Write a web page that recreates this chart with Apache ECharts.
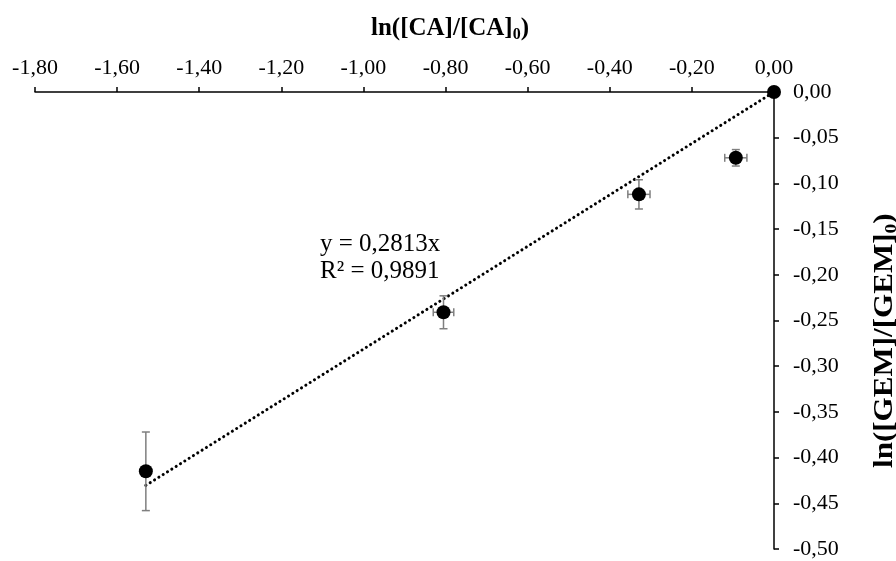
<!DOCTYPE html>
<html>
<head>
<meta charset="utf-8">
<script src="https://cdn.jsdelivr.net/npm/echarts@6/dist/echarts.min.js"></script>
<style>html,body{margin:0;padding:0;background:#fff}#c{width:896px;height:561px}</style>
</head>
<body>
<div id="c"></div>
<script>
// Data
var xValues = [0, -0.093, -0.329, -0.805, -1.530];
var yValues = [0, -0.072, -0.112, -0.241, -0.415];
var xErrors = [0, 0.027, 0.027, 0.025, 0];
var yErrors = [0, 0.009, 0.016, 0.018, 0.043];
var slope = 0.2813;
var trendX = [-1.530, 0];
var equationText = 'y = 0,2813x';
var r2Text = 'R² = 0,9891';
var xTitle = 'ln([CA]/[CA]';
var yTitle = 'ln([GEM]/[GEM]';

var FONT = '"Liberation Serif", "Times New Roman", serif';
function fmt(v){ return v.toFixed(2).replace('.', ','); }

var points = xValues.map(function(x,i){ return [x, yValues[i]]; });
var errData = xValues.map(function(x,i){ return [x, yValues[i], xErrors[i], yErrors[i]]; });
var trendData = trendX.map(function(x){ return [x, slope*x]; });

function titleRich(size){
  return {
    a: {fontFamily: FONT, fontWeight: 'bold', fontSize: size, fill: '#000'},
    s: {fontFamily: FONT, fontWeight: 'bold', fontSize: Math.round(size*0.64), fill: '#000', padding: [Math.round(size*0.48),0,0,0]}
  };
}

var chart = echarts.init(document.getElementById('c'));
chart.setOption({
  animation: false,
  backgroundColor: '#fff',
  grid: {left: 35, right: 122, top: 92, bottom: 12, containLabel: false},
  xAxis: {
    type: 'value', position: 'top', min: -1.8, max: 0, interval: 0.2,
    axisLine: {show: true, onZero: false, lineStyle: {color: '#000', width: 1.5}},
    axisTick: {show: true, length: 5, lineStyle: {color: '#000', width: 1.5}},
    splitLine: {show: false},
    axisLabel: {formatter: fmt, color: '#000', fontFamily: FONT, fontSize: 22, margin: 13}
  },
  yAxis: {
    type: 'value', position: 'right', min: -0.5, max: 0, interval: 0.05,
    axisLine: {show: true, onZero: false, lineStyle: {color: '#000', width: 1.5}},
    axisTick: {show: true, length: 5, lineStyle: {color: '#000', width: 1.5}},
    splitLine: {show: false},
    axisLabel: {formatter: fmt, color: '#000', fontFamily: FONT, fontSize: 22, margin: 19}
  },
  graphic: [
    {type: 'text', left: 371, top: 16, style: {
      text: '{a|' + xTitle + '}{s|0}{a|)}', rich: titleRich(25)
    }},
    {type: 'text', x: 870, y: 468, rotation: Math.PI/2, scaleX: 1.15, style: {
      text: '{a|' + yTitle + '}{s|0}{a|)}', rich: titleRich(27)
    }},
    {type: 'text', left: 320, top: 232, style: {text: equationText, fontFamily: FONT, fontSize: 25, fill: '#000'}},
    {type: 'text', left: 320, top: 259, style: {text: r2Text, fontFamily: FONT, fontSize: 25, fill: '#000'}}
  ],
  series: [
    {
      type: 'line', data: trendData, symbol: 'none', z: 2,
      lineStyle: {color: '#000', width: 3, type: [0.1, 5], cap: 'round'}
    },
    {
      type: 'custom', z: 3,
      renderItem: function(params, api){
        var x = api.value(0), y = api.value(1), ex = api.value(2), ey = api.value(3);
        var children = [];
        var st = {stroke: '#7f7f7f', lineWidth: 1.5};
        var cap = 4;
        if (ey > 0) {
          var t = api.coord([x, y+ey]), b = api.coord([x, y-ey]);
          children.push({type:'line', shape:{x1:t[0],y1:t[1],x2:b[0],y2:b[1]}, style: st});
          children.push({type:'line', shape:{x1:t[0]-cap,y1:t[1],x2:t[0]+cap,y2:t[1]}, style: st});
          children.push({type:'line', shape:{x1:b[0]-cap,y1:b[1],x2:b[0]+cap,y2:b[1]}, style: st});
        }
        if (ex > 0) {
          var l = api.coord([x-ex, y]), r = api.coord([x+ex, y]);
          children.push({type:'line', shape:{x1:l[0],y1:l[1],x2:r[0],y2:r[1]}, style: st});
          children.push({type:'line', shape:{x1:l[0],y1:l[1]-cap,x2:l[0],y2:l[1]+cap}, style: st});
          children.push({type:'line', shape:{x1:r[0],y1:r[1]-cap,x2:r[0],y2:r[1]+cap}, style: st});
        }
        return {type: 'group', children: children};
      },
      data: errData
    },
    {
      type: 'scatter', data: points, symbol: 'circle', symbolSize: 14, z: 4,
      itemStyle: {color: '#000', opacity: 1}
    }
  ]
});
</script>
</body>
</html>
